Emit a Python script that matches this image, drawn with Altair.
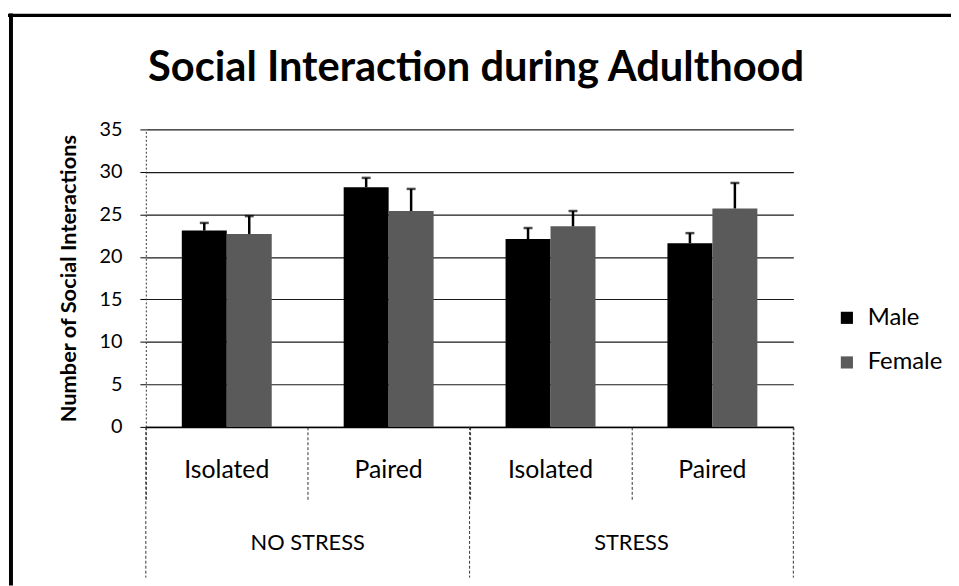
import altair as alt
import pandas as pd

# ---- data ----
stress_levels = ["NO STRESS", "NO STRESS", "NO STRESS", "NO STRESS",
                 "STRESS", "STRESS", "STRESS", "STRESS"]
housing = ["Isolated", "Isolated", "Paired", "Paired",
           "Isolated", "Isolated", "Paired", "Paired"]
sexes = ["Male", "Female", "Male", "Female", "Male", "Female", "Male", "Female"]
means = [23.1, 22.7, 28.2, 25.4, 22.1, 23.6, 21.6, 25.7]
errors = [0.9, 2.1, 1.1, 2.6, 1.3, 1.8, 1.2, 3.0]

group_order = ["NO STRESS|Isolated", "NO STRESS|Paired", "STRESS|Isolated", "STRESS|Paired"]
sex_order = ["Male", "Female"]
sex_colors = ["#000000", "#5a5a5a"]
y_ticks = [0, 5, 10, 15, 20, 25, 30, 35]

df = pd.DataFrame({
    "stress": stress_levels,
    "housing": housing,
    "sex": sexes,
    "mean": means,
    "err": errors,
})
df["group"] = df["stress"] + "|" + df["housing"]
df["upper"] = df["mean"] + df["err"]

groups_df = pd.DataFrame({"group": group_order,
                          "label": [g.split("|")[1] for g in group_order]})
stress_df = pd.DataFrame({"group": ["NO STRESS|Paired", "STRESS|Paired"],
                          "label": ["NO STRESS", "STRESS"]})
left_bounds = pd.DataFrame({"group": ["NO STRESS|Isolated", "STRESS|Isolated"]})
right_bound = pd.DataFrame({"group": ["STRESS|Paired"]})

FONT = "Lato"
W, H = 653, 300

xscale = alt.Scale(domain=group_order, paddingInner=0, paddingOuter=0)
xoff = alt.XOffset("sex:N", scale=alt.Scale(domain=sex_order, paddingInner=0, paddingOuter=0.8))
yscale = alt.Scale(domain=[0, 35], nice=False)

bars = alt.Chart(df).mark_bar().encode(
    x=alt.X("group:N", scale=xscale, sort=group_order,
            axis=alt.Axis(title=None, labels=False, tickBand="extent", tickSize=75,
                          tickColor="#333333", tickWidth=1, tickDash=[3, 2],
                          domainColor="#000000", domainWidth=1.5)),
    xOffset=xoff,
    y=alt.Y("mean:Q", scale=yscale,
            axis=alt.Axis(title="Number of Social Interactions", values=y_ticks,
                          titleFont=FONT, titleFontSize=22, titleFontWeight="bold",
                          titleColor="#000000", titlePadding=19,
                          labelFont=FONT, labelFontSize=20, labelColor="#000000",
                          labelPadding=18, tickSize=6, tickColor="#000000",
                          domainColor="#333333", domainDash=[2, 2],
                          grid=True, gridColor="#1a1a1a", gridWidth=1.2)),
    color=alt.Color("sex:N", scale=alt.Scale(domain=sex_order, range=sex_colors),
                    legend=alt.Legend(title=None, orient="none", legendX=695, legendY=178,
                                      symbolType="square", symbolSize=150,
                                      symbolStrokeWidth=0, labelFont=FONT,
                                      labelFontSize=24, labelColor="#000000",
                                      rowPadding=21, labelOffset=9)),
)

err_rule = alt.Chart(df).mark_rule(color="#000000", strokeWidth=2.5).encode(
    x=alt.X("group:N", scale=xscale, sort=group_order),
    xOffset=xoff,
    y=alt.Y("mean:Q", scale=yscale),
    y2="upper:Q",
)

err_cap = alt.Chart(df).mark_tick(color="#000000", thickness=2.5, size=9).encode(
    x=alt.X("group:N", scale=xscale, sort=group_order),
    xOffset=xoff,
    y=alt.Y("upper:Q", scale=yscale),
)

housing_labels = alt.Chart(groups_df).mark_text(
    font=FONT, fontSize=25, color="#000000", baseline="middle", align="center"
).encode(
    x=alt.X("group:N", scale=xscale, sort=group_order),
    y=alt.value(H + 44),
    text="label:N",
)

stress_labels = alt.Chart(stress_df).mark_text(
    font=FONT, fontSize=22, color="#000000", baseline="middle", align="center"
).encode(
    x=alt.X("group:N", scale=xscale, sort=group_order, bandPosition=0),
    y=alt.value(H + 117),
    text="label:N",
)

long_left = alt.Chart(left_bounds).mark_rule(color="#333333", strokeWidth=1, strokeDash=[3, 2]).encode(
    x=alt.X("group:N", scale=xscale, sort=group_order, bandPosition=0),
    y=alt.value(H),
    y2=alt.value(H + 152),
)
long_right = alt.Chart(right_bound).mark_rule(color="#333333", strokeWidth=1, strokeDash=[3, 2]).encode(
    x=alt.X("group:N", scale=xscale, sort=group_order, bandPosition=1),
    y=alt.value(H),
    y2=alt.value(H + 152),
)

title = alt.Chart(groups_df.head(1)).mark_text(
    font=FONT, fontSize=42, fontWeight="bold", color="#000000",
    align="center", baseline="alphabetic"
).encode(
    x=alt.value(333), y=alt.value(-49), text=alt.value("Social Interaction during Adulthood"),
)

frame_top = alt.Chart(groups_df.head(1)).mark_rule(color="#000000", strokeWidth=3.5).encode(
    x=alt.value(-139), x2=alt.value(820), y=alt.value(-115),
)
frame_left = alt.Chart(groups_df.head(1)).mark_rule(color="#000000", strokeWidth=4).encode(
    x=alt.value(-136), y=alt.value(-117), y2=alt.value(460),
)

chart = alt.layer(
    bars, err_rule, err_cap, housing_labels, stress_labels, long_left, long_right,
    title, frame_top, frame_left,
).properties(
    width=W, height=H,
    padding={"left": 139, "top": 120, "right": 159, "bottom": 158},
    autosize=alt.AutoSizeParams(type="none"),
    background="#ffffff",
).configure_view(stroke=None)

chart.save("out.html", embed_options={"renderer": "svg", "actions": False})
